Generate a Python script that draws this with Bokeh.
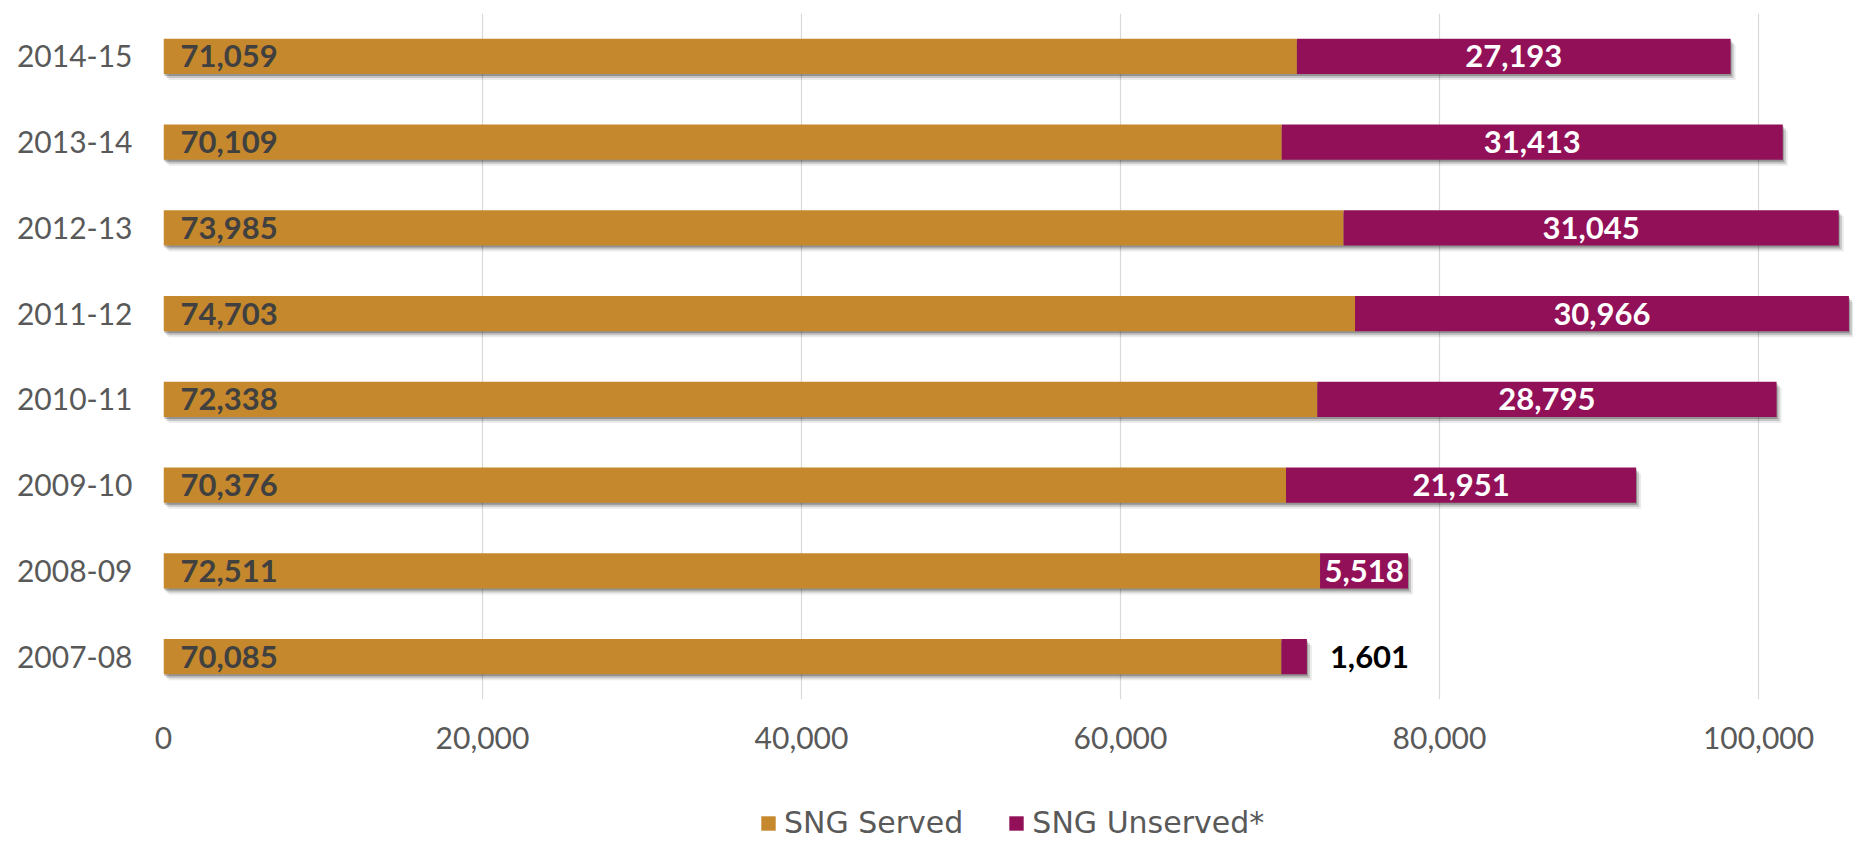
import numpy as np
from bokeh.plotting import figure
from bokeh.layouts import column
from bokeh.models import (ColumnDataSource, FactorRange, Range1d, FixedTicker,
                          NumeralTickFormatter, Legend, LegendItem)
from bokeh.transform import dodge
from bokeh.core.properties import value
from bokeh.embed import file_html
from bokeh.resources import INLINE

# ---- data ----
years = ["2007-08", "2008-09", "2009-10", "2010-11",
         "2011-12", "2012-13", "2013-14", "2014-15"]
served = [70085, 72511, 70376, 72338, 74703, 73985, 70109, 71059]
unserved = [1601, 5518, 21951, 28795, 30966, 31045, 31413, 27193]
series_names = ["SNG Served", "SNG Unserved*"]
x_ticks = [0, 20000, 40000, 60000, 80000, 100000]

SERVED_COLOR = "#C5882C"
UNSERVED_COLOR = "#921058"
AXIS_TEXT = "#595959"

served_a = np.array(served, dtype=float)
uns_a = np.array(unserved, dtype=float)
total_a = served_a + uns_a

src = ColumnDataSource(dict(
    year=years,
    zero=[0] * len(years),
    served=served,
    total=total_a.tolist(),
    served_lbl=[f"{v:,}" for v in served],
))

inside = [i for i, u in enumerate(unserved) if u >= 3000]
outside = [i for i, u in enumerate(unserved) if u < 3000]
src_in = ColumnDataSource(dict(
    year=[years[i] for i in inside],
    mid=[(served_a[i] + uns_a[i] / 2) for i in inside],
    lbl=[f"{unserved[i]:,}" for i in inside],
))
src_out = ColumnDataSource(dict(
    year=[years[i] for i in outside],
    end=[total_a[i] for i in outside],
    lbl=[f"{unserved[i]:,}" for i in outside],
))

W = 1853
H_MAIN, H_LEG = 775, 66
LEFT, TOP, BOTTOM = 163, 13, 76
X_END = 105956
BAR_H = 0.41
px_per_unit = (W - LEFT) / X_END                       # screen px per x unit
px_per_cat = (H_MAIN - TOP - BOTTOM) / len(years)      # screen px per band

p = figure(width=W, height=H_MAIN,
           y_range=FactorRange(*years),
           x_range=Range1d(0, X_END),
           output_backend="svg", toolbar_location=None,
           min_border_left=LEFT, min_border_right=0,
           min_border_top=TOP, min_border_bottom=BOTTOM)
p.background_fill_color = "white"
p.border_fill_color = "white"
p.outline_line_color = None

# soft shadow under bars
for dx, dy, a in [(1, 2, 0.25), (3, 4, 0.16), (5, 6, 0.08)]:
    p.hbar(y=dodge("year", -dy / px_per_cat, range=p.y_range),
           left=dodge("zero", dx / px_per_unit),
           right=dodge("total", dx / px_per_unit),
           height=BAR_H, fill_color="black", fill_alpha=a,
           line_color=None, source=src)

p.hbar(y="year", left="zero", right="served", height=BAR_H,
       fill_color=SERVED_COLOR, line_color=None, source=src)
p.hbar(y="year", left="served", right="total", height=BAR_H,
       fill_color=UNSERVED_COLOR, line_color=None, source=src)

# labels
p.text(x="zero", y="year", text="served_lbl", source=src,
       x_offset=17, text_align="left", text_baseline="middle",
       text_font=value("Lato"), text_font_style="bold",
       text_font_size="31px", text_color="#404040")
p.text(x="mid", y="year", text="lbl", source=src_in,
       text_align="center", text_baseline="middle",
       text_font=value("Lato"), text_font_style="bold",
       text_font_size="31px", text_color="white")
p.text(x="end", y="year", text="lbl", source=src_out,
       x_offset=23, text_align="left", text_baseline="middle",
       text_font=value("Lato"), text_font_style="bold",
       text_font_size="31px", text_color="black")

# axes
p.xaxis.ticker = FixedTicker(ticks=x_ticks)
p.xaxis.formatter = NumeralTickFormatter(format="0,0")
for ax in (p.xaxis, p.yaxis):
    ax.axis_line_color = None
    ax.major_tick_line_color = None
    ax.minor_tick_line_color = None
    ax.major_tick_out = 0
    ax.major_tick_in = 0
    ax.major_label_text_font = "Lato"
    ax.major_label_text_font_size = "30px"
    ax.major_label_text_color = AXIS_TEXT
p.xaxis.major_label_standoff = 27
p.yaxis.major_label_standoff = 31

p.ygrid.grid_line_color = None
p.xgrid.ticker = FixedTicker(ticks=x_ticks)
p.xgrid.grid_line_color = "#d9d9d9"
p.xgrid.grid_line_width = 1.2

# ---- legend strip ----
leg = figure(width=W, height=H_LEG, x_range=Range1d(0, 1), y_range=Range1d(0, 1),
             output_backend="svg", toolbar_location=None,
             x_axis_location=None, y_axis_location=None,
             min_border=0)
leg.outline_line_color = None
leg.grid.grid_line_color = None
# off-screen placeholder glyphs so the legend can draw its swatches
dummy = ColumnDataSource(dict(y=[-5], left=[-5], right=[-4]))
l1 = leg.hbar(y="y", left="left", right="right", height=1,
              fill_color=SERVED_COLOR, line_color=None, source=dummy)
l2 = leg.hbar(y="y", left="left", right="right", height=1,
              fill_color=UNSERVED_COLOR, line_color=None, source=dummy)
legend = Legend(items=[LegendItem(label=series_names[0], renderers=[l1]),
                       LegendItem(label=series_names[1], renderers=[l2])],
                orientation="horizontal", location=(596, 1),
                glyph_width=18, glyph_height=18, label_standoff=7,
                spacing=44, padding=0, margin=0,
                border_line_color=None, background_fill_alpha=0,
                label_text_font="DejaVu Sans", label_text_font_size="30px",
                label_text_color=AXIS_TEXT)
leg.add_layout(legend, "center")

layout = column(p, leg, spacing=0)
open("out.html", "w").write(file_html(layout, INLINE))
